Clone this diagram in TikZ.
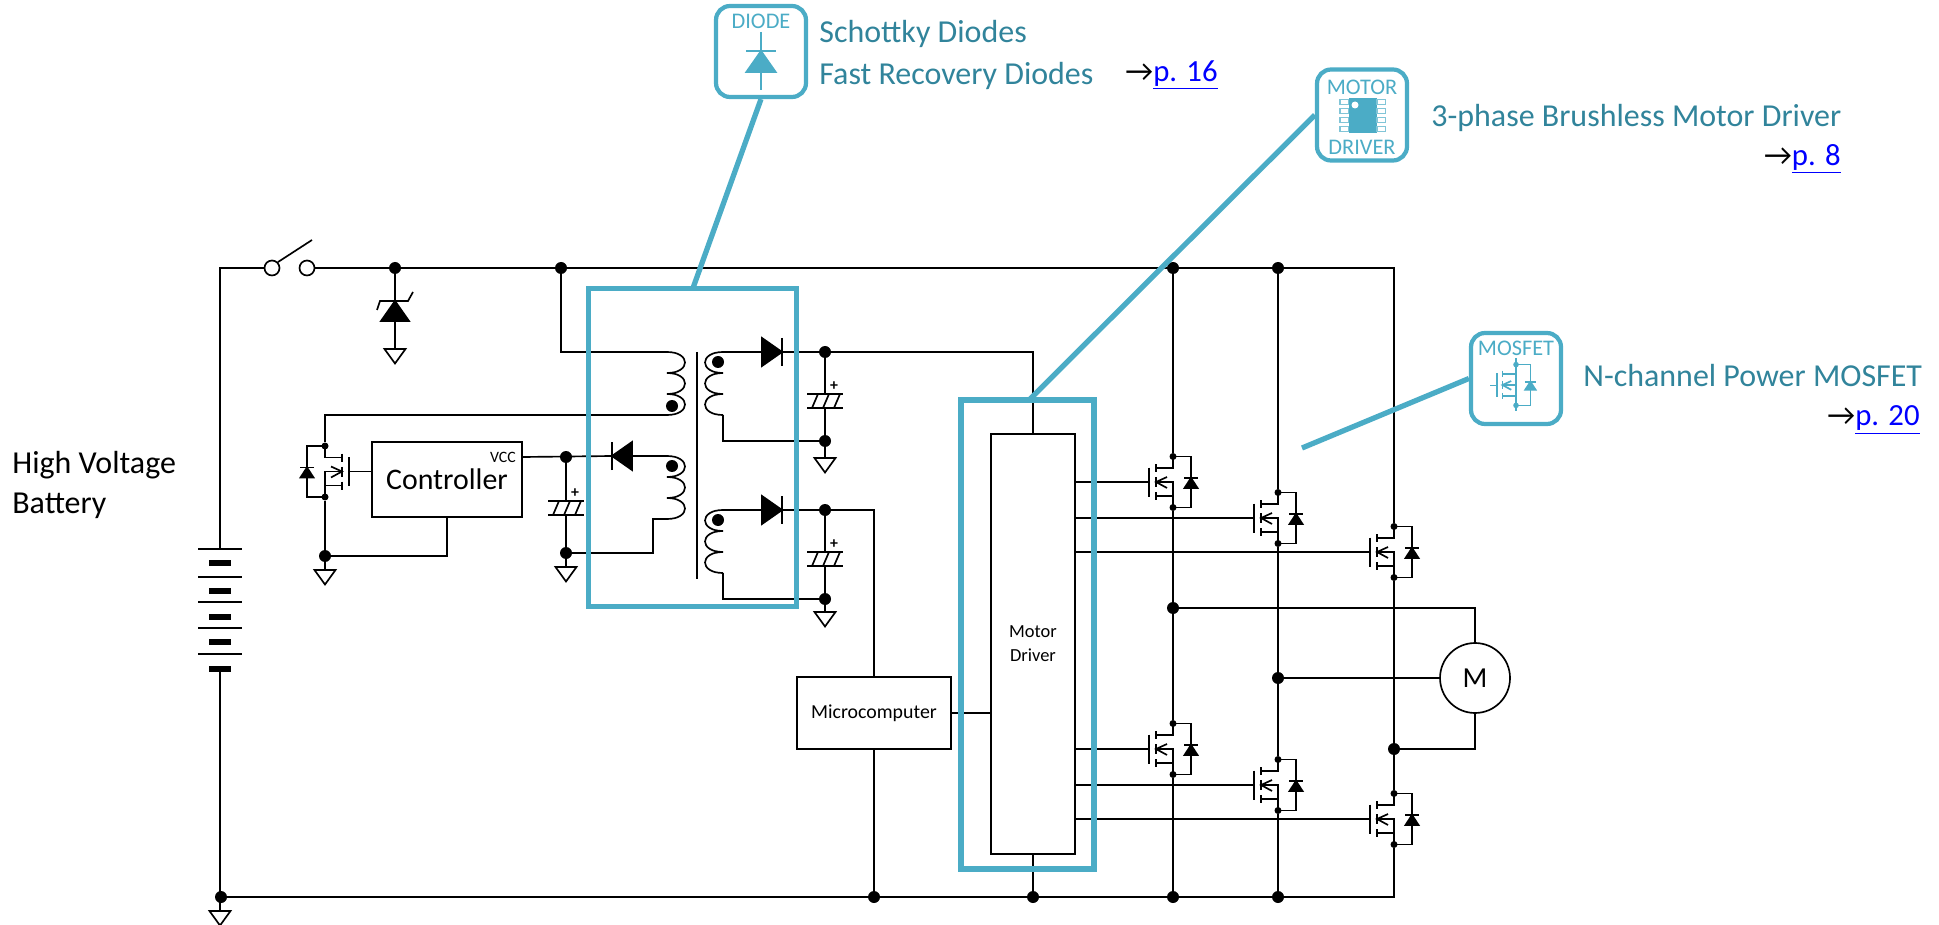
\documentclass[tikz,border=0pt]{standalone}
\usepackage{fontspec}
\setmainfont{Carlito}
\usepackage{tikz}

\definecolor{iconblue}{HTML}{4BACC6}
\definecolor{labelteal}{HTML}{31849B}
\definecolor{linkblue}{HTML}{0000FF}

\newcommand{\pagelink}[1]{→\textcolor{linkblue}{\underline{#1}}}

\tikzset{
        pics/gnd/.style={code={
                \coordinate (-top) at (0,0);
                \draw [wire] (-10.5,0) -- (10.5,0) -- (0,14.5) -- cycle;
        }},
        pics/power diode/.style={code={
                \coordinate (-k) at (0,-10);
                \coordinate (-a) at (0,10);
                \draw [wire,fill] (0,-10) -- (14,10) -- (-14,10) -- cycle;
                \draw [wire] (-14,-10) -- (14,-10);
        }},
        pics/zener/.style={code={
                \coordinate (-k) at (0,-10);
                \coordinate (-a) at (0,10);
                \draw [wire,fill] (0,-10) -- (14,10) -- (-14,10) -- cycle;
                \draw [wire] (-18,-1) -- (-15,-10) -- (13,-10) -- (18,-19);
        }},
        pics/cap/.style={code={
                \coordinate (-a) at (0,0);
                \coordinate (-b) at (0,14);
                \draw [wire] (-18,0) -- (18,0);
                \draw [wire] (-18,14) -- (18,14);
                \foreach \s in {-13,-2,9}
                        \draw [wire] (\s,14) -- (\s+6,0);
                \node [font=\fontsize{9}{9}\selectfont\bfseries,inner sep=0pt] (-plus) at (9,-7.5) {+};
        }},
        pics/coil/.style={code={
                \coordinate (-top) at (0,0);
                \coordinate (-bot) at (0,63);
                \draw [wire] (0,0) .. controls (24,0) and (24,21) .. (0,21)
                        .. controls (24,21) and (24,42) .. (0,42)
                        .. controls (24,42) and (24,63) .. (0,63);
        }},
        pics/nmos/.style={code={
                \node [smalldot] (-top) at (0,-25.5) {};
                \node [smalldot] (-bot) at (0,25.5) {};
                \coordinate (-g) at (-24,0);
                \draw [wire] (-24,-14.5) -- (-24,14.5);
                \draw [wire] (-17,-18) -- (-17,-10);
                \draw [wire] (-17,-5) -- (-17,5);
                \draw [wire] (-17,10) -- (-17,18);
                \draw [wire] (0,-25.5) -- (0,-14) -- (-17,-14);
                \draw [wire] (0,25.5) -- (0,0) -- (-17,0);
                \draw [wire] (0,14) -- (-17,14);
                \draw [wire] (-6,-5) -- (-17,0) -- (-6,6);
                \draw [wire] (0,-25.5) -- (18,-25.5) -- (18,25.5) -- (0,25.5);
                \draw [wire,fill] (18,-4) -- (24.5,6) -- (11.5,6) -- cycle;
                \draw [wire] (11,-4) -- (25,-4);
        }},
}

\begin{document}
\begin{tikzpicture}[x=0.02cm,y=-0.02cm]
        \tikzstyle{wire} = [line width=.95pt]
        \tikzstyle{bigdot} = [circle,fill=black,inner sep=0pt,minimum size=0.24cm]
        \tikzstyle{smalldot} = [circle,fill,inner sep=0pt,minimum size=0.14cm]
        \tikzstyle{box} = [draw,line width=.95pt,inner sep=0pt]
        \tikzstyle{swdot} = [draw,line width=.95pt,fill=white,circle,inner sep=0pt,minimum size=0.3cm]
        \tikzstyle{bluebox} = [draw=iconblue,line width=3pt,inner sep=0pt]
        \tikzstyle{bluewire} = [line width=3pt,color=iconblue]
        \tikzstyle{icon} = [draw=iconblue,line width=2.4pt,fill=white,rounded corners=0.28cm,inner sep=0pt,minimum width=1.8cm,minimum height=1.82cm]
        \tikzstyle{label} = [color=labelteal,font=\fontsize{18.2}{23.8}\selectfont,align=left,inner sep=0pt,anchor=west]
        \tikzstyle{link} = [font=\fontsize{17.5}{20}\selectfont,inner sep=0pt,anchor=east]
        \tikzstyle{icontext} = [color=iconblue,font=\fontsize{12.7}{13}\selectfont,inner sep=0pt]
        \useasboundingbox (0,0) rectangle (1939,925);

        \node [font=\fontsize{18.2}{22.4}\selectfont,align=left,inner sep=0pt,anchor=west] (battlabel) at (12,485) {High Voltage\\Battery};

        \coordinate (battp) at (220,549);
        \coordinate (battn) at (220,668);
        \foreach \y in {549,577,602,628,654}
                \draw [wire] (198,\y) -- (242,\y);
        \foreach \y in {563,591,616.5,641.5,668.5}
                \fill (209,\y-3) rectangle (231,\y+3);

        \node [swdot] (swa) at (272,268) {};
        \node [swdot] (swb) at (307,268) {};
        \coordinate (swtip) at (312,240);
        \node [bigdot] (zenerdot) at (395,268) {};
        \node [bigdot] (xfmrdot) at (561,268) {};
        \node [bigdot] (qadot) at (1173,268) {};
        \node [bigdot] (qbdot) at (1278,268) {};
        \coordinate (topright) at (1394,268);

        \pic (zener) at (395,311) {zener};
        \pic (gndz) at (395,349) {gnd};

        \node [box,minimum width=3cm,minimum height=1.5cm,font=\fontsize{17}{20}\selectfont] (controller) at (447,479.5) {Controller};
        \node [inner sep=0pt,font=\fontsize{9}{10}\selectfont] (vcc) at (503,457) {VCC};
        \pic [xscale=-1] (qc) at (325,471.5) {nmos};
        \node [bigdot] (ctldot) at (325,556) {};
        \pic (gndc) at (325,570) {gnd};
        \node [bigdot] (vccdot) at (566,457) {};
        \node [bigdot] (auxdot) at (566,553) {};
        \pic (capc) at (566,501) {cap};
        \pic (gnda) at (566,567) {gnd};

        \pic (coilp) at (667,352) {coil};
        \pic (coilx) at (667,456) {coil};
        \pic [xscale=-1] (coilsa) at (723,352) {coil};
        \pic [xscale=-1] (coilsb) at (723,510) {coil};
        \coordinate (coretop) at (697,352);
        \coordinate (corebot) at (697,579);
        \draw [wire] (coretop) -- (corebot);
        \node [bigdot] (coilpdot) at (672,406) {};
        \node [bigdot] (coilxdot) at (672,466) {};
        \node [bigdot] (coilsadot) at (718,362) {};
        \node [bigdot] (coilsbdot) at (718,520) {};

        \pic [rotate=90] (dx) at (622,456) {power diode};
        \pic [rotate=-90] (dsa) at (772,352) {power diode};
        \pic [rotate=-90] (dsb) at (772,510) {power diode};

        \node [bigdot] (sapos) at (825,352) {};
        \node [bigdot] (saneg) at (825,441) {};
        \node [bigdot] (sbpos) at (825,510) {};
        \node [bigdot] (sbneg) at (825,599) {};
        \pic (capa) at (825,394) {cap};
        \pic (capb) at (825,552) {cap};
        \pic (gndsa) at (825,458) {gnd};
        \pic (gndsb) at (825,612) {gnd};

        \node [box,minimum width=3.08cm,minimum height=1.44cm,font=\fontsize{11.3}{12}\selectfont] (micro) at (874,713) {Microcomputer};
        \node [box,minimum width=1.68cm,minimum height=8.4cm,font=\fontsize{10.5}{13.6}\selectfont,align=center] (driver) at (1033,644) {Motor\\Driver};

        \pic (qa) at (1173,482) {nmos};
        \pic (qb) at (1278,518) {nmos};
        \pic (qd) at (1394,552) {nmos};
        \pic (qe) at (1173,749) {nmos};
        \pic (qf) at (1278,785) {nmos};
        \pic (qg) at (1394,819) {nmos};

        \node [bigdot] (phasea) at (1173,608) {};
        \node [bigdot] (phaseb) at (1278,678) {};
        \node [bigdot] (phasec) at (1394,749) {};
        \node [draw,line width=.95pt,circle,inner sep=0pt,minimum size=1.4cm,font=\fontsize{16.5}{20}\selectfont] (motor) at (1475,678) {M};

        \node [bigdot] (gndmain) at (221,897) {};
        \node [bigdot] (gndmicro) at (874,897) {};
        \node [bigdot] (gnddriver) at (1033,897) {};
        \node [bigdot] (gndqe) at (1173,897) {};
        \node [bigdot] (gndqf) at (1278,897) {};
        \coordinate (botright) at (1394,897);
        \pic (gndb) at (220,911) {gnd};

        \draw [wire] (battp) |- (swa);
        \draw [wire] (swa.north east) -- (swtip);
        \draw [wire] (swb) -- (topright) -- (qd-top);
        \draw [wire] (zenerdot) -- (zener-k);
        \draw [wire] (zener-a) -- (gndz-top);
        \draw [wire] (xfmrdot) |- (coilp-top);
        \draw [wire] (qc-top) |- (coilp-bot);
        \draw [wire] (qc-g) -- (controller.west |- qc-g);
        \draw [wire] (qc-bot) -- (gndc-top);
        \draw [wire] (controller.south) |- (ctldot);
        \draw [wire] (controller.east |- vccdot) -- (dx-k);
        \draw [wire] (dx-a) -- (coilx-top);
        \draw [wire] (vccdot) -- (capc-a);
        \draw [wire] (capc-b) -- (gnda-top);
        \draw [wire] (coilx-bot) -| (653,553) -- (auxdot);
        \draw [wire] (coilsa-top) -- (dsa-a);
        \draw [wire] (dsa-k) -- (sapos);
        \draw [wire] (coilsa-bot) |- (saneg);
        \draw [wire] (sapos) -- (capa-a);
        \draw [wire] (capa-b) -- (gndsa-top);
        \draw [wire] (coilsb-top) -- (dsb-a);
        \draw [wire] (dsb-k) -- (sbpos);
        \draw [wire] (coilsb-bot) |- (sbneg);
        \draw [wire] (sbpos) -- (capb-a);
        \draw [wire] (capb-b) -- (gndsb-top);
        \draw [wire] (sapos) -| (driver.north);
        \draw [wire] (sbpos) -| (micro.north);
        \draw [wire] (micro.south) -- (gndmicro);
        \draw [wire] (micro.east) -- (driver.west |- micro.east);
        \draw [wire] (driver.south) -- (gnddriver);
        \foreach \q in {qa,qb,qd,qe,qf,qg}
                \draw [wire] (\q-g) -- (driver.east |- \q-g);
        \draw [wire] (qadot) -- (qa-top);
        \draw [wire] (qbdot) -- (qb-top);
        \draw [wire] (qa-bot) -- (qe-top);
        \draw [wire] (qb-bot) -- (qf-top);
        \draw [wire] (qd-bot) -- (qg-top);
        \draw [wire] (qe-bot) -- (gndqe);
        \draw [wire] (qf-bot) -- (gndqf);
        \draw [wire] (qg-bot) -- (botright) -- (gndmain);
        \draw [wire] (phasea) -| (motor.north);
        \draw [wire] (phaseb) -- (motor.west);
        \draw [wire] (phasec) -| (motor.south);
        \draw [wire] (battn) -- (gndb-top);

        \node [bluebox,minimum width=4.16cm,minimum height=6.36cm] (xfmrbox) at (692.5,447.5) {};
        \node [bluebox,minimum width=2.66cm,minimum height=9.38cm] (driverbox) at (1027.5,634.5) {};
        \coordinate (diodehit) at (693,288);
        \coordinate (driverhit) at (1029,400);
        \coordinate (mosfethit) at (1302,448);

        \node [icon] (diodeicon) at (761,51.5) {};
        \node [icon] (motoricon) at (1362,115) {};
        \node [icon] (mosfeticon) at (1516,378.5) {};
        \draw [bluewire] (diodeicon.south) -- (diodehit);
        \draw [bluewire] (motoricon.west) -- (driverhit);
        \draw [bluewire] (mosfeticon.west) -- (mosfethit);

        \node [icontext] (diodetext) at (761,21) {DIODE};
        \draw [wire,color=iconblue] (761,32) -- (761,90);
        \pic [color=iconblue,scale=1.05] (diodesym) at (761,61.5) {power diode};
        \node [icontext] (motortext) at (1362,87) {MOTOR};
        \node [icontext] (drivertext) at (1362,147) {DRIVER};
        \fill [iconblue] (1348.5,98) rectangle (1377,133);
        \fill [white] (1355,105) circle (0.07cm);
        \foreach \y in {102,111,120,129} {
                \draw [wire,color=iconblue!70] (1340,\y-2.5) rectangle (1348.5,\y+2.5);
                \draw [wire,color=iconblue!70] (1377,\y-2.5) rectangle (1385.5,\y+2.5);
        }
        \node [icontext] (mosfettext) at (1516,348) {MOSFET};
        \draw [wire,color=iconblue] (1516,358) -- (1516,411);
        \draw [wire,color=iconblue] (1490,385.5) -- (1497,385.5);
        \pic [color=iconblue,scale=.8,transform shape] (mosfetsym) at (1516,385) {nmos};

        \node [label] (diodelabel) at (819,55) {Schottky Diodes\\Fast Recovery Diodes};
        \node [label] (motorlabel) at (1431,118) {3-phase Brushless Motor Driver};
        \node [label] (mosfetlabel) at (1583,376) {N-channel Power MOSFET};
        \node [link] (diodelink) at (1218,75) {\pagelink{p. 16}};
        \node [link] (motorlink) at (1841,159) {\pagelink{p. 8}};
        \node [link] (mosfetlink) at (1920,420) {\pagelink{p. 20}};
\end{tikzpicture}
\end{document}
